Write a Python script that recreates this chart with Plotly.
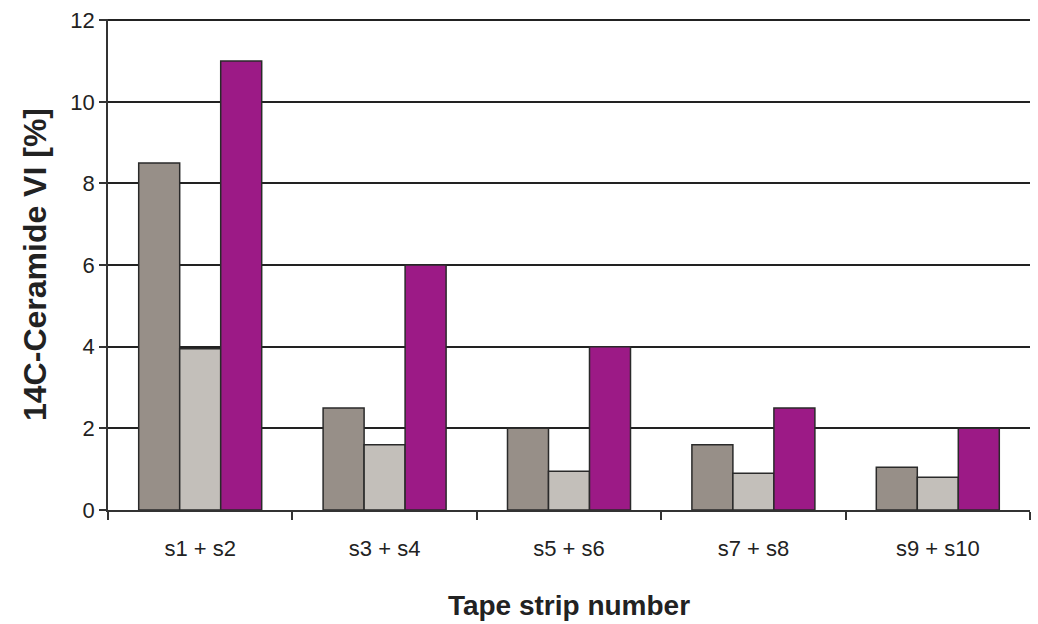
import plotly.graph_objects as go

categories = ["s1 + s2", "s3 + s4", "s5 + s6", "s7 + s8", "s9 + s10"]
series_a = [8.5, 2.5, 2.0, 1.6, 1.05]
series_b = [3.95, 1.6, 0.95, 0.9, 0.8]
series_c = [11.0, 6.0, 4.0, 2.5, 2.0]
y_ticks = [0, 2, 4, 6, 8, 10, 12]

colors = ["#978f88", "#c3bfba", "#9c1a86"]

fig = go.Figure()
for vals, col in zip([series_a, series_b, series_c], colors):
    fig.add_trace(go.Bar(x=categories, y=vals, marker=dict(color=col, line=dict(color="#2a2a2a", width=1.5))))

fig.update_layout(
    width=1038, height=624,
    margin=dict(l=108, r=8, t=16, b=114),
    paper_bgcolor="white", plot_bgcolor="white",
    barmode="group", bargap=0.333, bargroupgap=0,
    showlegend=False,
    font=dict(family="Liberation Sans, Arial, sans-serif", color="#222"),
)
fig.update_xaxes(
    showline=True, linecolor="#333", linewidth=1.5,
    ticks="outside", tickson="boundaries", ticklen=8, tickcolor="#333", tickwidth=1.5,
    tickfont=dict(size=22), ticklabelstandoff=18,
    title=dict(text="<b>Tape strip number</b>", font=dict(size=28), standoff=35),
)
fig.update_yaxes(
    range=[0, 12.03], tickvals=y_ticks,
    showline=True, linecolor="#333", linewidth=1.5,
    ticks="outside", ticklen=7, tickcolor="#333", tickwidth=1.5,
    showgrid=True, gridcolor="#222", gridwidth=1.5,
    tickfont=dict(size=22), ticklabeloverflow="allow",
    title=dict(text="<b>14C-Ceramide VI [%]</b>", font=dict(size=32), standoff=14),
    zeroline=False,
)

fig.write_html("out.html", post_script="document.body.style.margin='0';",
               config={"displayModeBar": False})
